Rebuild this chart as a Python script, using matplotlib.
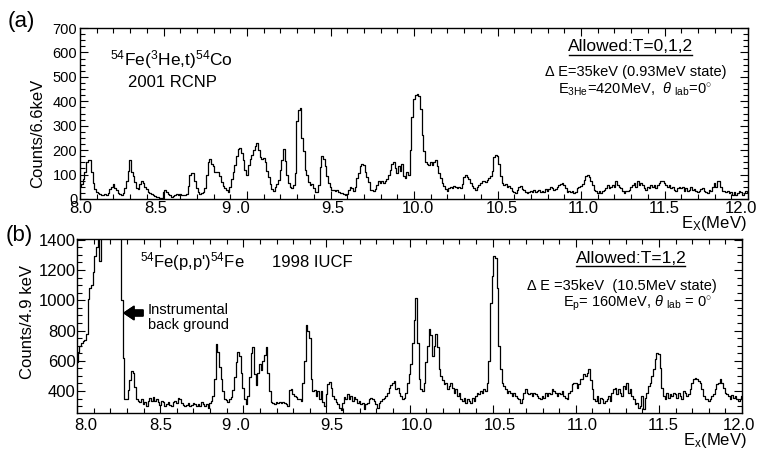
import numpy as np
import matplotlib
matplotlib.use("Agg")
import matplotlib.pyplot as plt
import matplotlib.transforms as mtransforms
from matplotlib.ticker import MultipleLocator, FixedLocator
from matplotlib.lines import Line2D

plt.rcParams['font.family'] = ['Liberation Sans', 'DejaVu Sans']
plt.rcParams['mathtext.fontset'] = 'custom'
plt.rcParams['mathtext.rm'] = 'Liberation Sans'
plt.rcParams['mathtext.it'] = 'Liberation Sans:italic'
plt.rcParams['mathtext.bf'] = 'Liberation Sans:bold'

# ---------------- data ----------------
e_start = 8.0
e_step = 0.01

# (a) 54Fe(3He,t)54Co, counts per bin, 8.00 .. 12.00 MeV
counts_a = [
    55, 60, 80, 110, 150, 160, 158, 110, 65, 40,
    30, 25, 22, 15, 18, 20, 18, 25, 40, 50,
    60, 45, 35, 25, 20, 15, 25, 45, 75, 115,
    158, 110, 95, 70, 45, 40, 60, 72, 65, 50,
    40, 30, 25, 20, 15, 12, 10, 8, 5, 3,
    30, 35, 28, 22, 15, 10, 12, 15, 20, 18,
    20, 18, 15, 15, 20, 55, 100, 107, 105, 75,
    45, 30, 20, 25, 30, 45, 100, 150, 165, 145,
    135, 110, 112, 110, 95, 70, 55, 45, 35, 30,
    50, 80, 110, 140, 175, 205, 210, 190, 160, 120,
    100, 140, 165, 180, 200, 215, 228, 200, 170, 165,
    168, 150, 115, 90, 60, 40, 33, 50, 60, 78,
    118, 160, 204, 155, 100, 65, 51, 47, 58, 105,
    320, 364, 371, 250, 197, 120, 100, 68, 58, 62,
    45, 28, 30, 58, 130, 176, 162, 135, 95, 65,
    51, 37, 35, 33, 35, 28, 24, 25, 19, 17,
    22, 37, 50, 45, 33, 50, 85, 105, 135, 142,
    138, 112, 90, 68, 35, 37, 33, 42, 58, 72,
    65, 72, 65, 72, 80, 100, 120, 142, 153, 128,
    107, 135, 114, 142, 93, 86, 111, 100, 200, 336,
    410, 426, 428, 420, 370, 260, 197, 150, 145, 140,
    150, 140, 150, 160, 135, 105, 85, 65, 55, 40,
    33, 44, 48, 44, 55, 48, 44, 48, 44, 60,
    90, 100, 90, 80, 65, 55, 45, 37, 50, 58,
    65, 72, 75, 68, 79, 86, 95, 114, 170, 181,
    175, 142, 93, 65, 58, 60, 51, 55, 45, 33,
    30, 24, 38, 51, 55, 42, 35, 30, 24, 28,
    33, 28, 37, 30, 33, 37, 30, 33, 30, 40,
    33, 42, 51, 44, 37, 42, 51, 58, 62, 65,
    58, 44, 30, 33, 28, 33, 24, 30, 45, 50,
    55, 62, 79, 93, 100, 89, 75, 58, 37, 31,
    24, 33, 24, 31, 37, 47, 58, 44, 51, 58,
    51, 75, 58, 51, 44, 31, 24, 31, 33, 37,
    51, 58, 65, 51, 72, 58, 65, 58, 47, 37,
    51, 44, 58, 51, 58, 44, 58, 65, 72, 75,
    65, 58, 51, 58, 44, 51, 37, 31, 44, 51,
    44, 51, 33, 44, 33, 37, 51, 37, 40, 33,
    28, 33, 40, 44, 33, 28, 24, 37, 33, 51,
    65, 51, 72, 75, 51, 31, 33, 28, 33, 24,
    28, 17, 28, 17, 24, 33, 28, 17, 24, 31,
    30,
]

# (b) 54Fe(p,p')54Fe, counts per bin, 8.00 .. 12.00 MeV
counts_b = [
    590, 655, 700, 720, 730, 740, 780, 1010, 1080, 1100,
    1190, 1290, 1350, 1450, 1260, 1600, 1900, 2200, 2500, 2700,
    2800, 2700, 2500, 2300, 2100, 1900, 1700, 1000, 620, 350,
    345, 410, 470, 530, 520, 430, 350, 335, 325, 345,
    312, 325, 300, 335, 356, 335, 360, 335, 345, 325,
    310, 335, 325, 300, 312, 325, 310, 300, 325, 335,
    323, 356, 345, 323, 310, 300, 310, 323, 300, 305,
    323, 312, 300, 312, 300, 325, 312, 300, 312, 290,
    323, 335, 370, 480, 709, 660, 560, 480, 400, 350,
    340, 325, 345, 360, 410, 490, 590, 658, 630, 520,
    420, 350, 315, 370, 490, 650, 690, 510, 440, 520,
    580, 540, 600, 640, 690, 520, 400, 330, 320, 312,
    330, 320, 330, 320, 330, 320, 312, 301, 410, 415,
    380, 370, 360, 345, 350, 335, 450, 600, 835, 800,
    750, 480, 400, 410, 370, 400, 345, 400, 330, 301,
    380, 444, 460, 420, 370, 345, 325, 312, 290, 274,
    320, 360, 345, 380, 345, 370, 335, 360, 345, 323,
    335, 312, 323, 280, 312, 323, 345, 356, 345, 335,
    312, 290, 323, 335, 345, 356, 367, 390, 422, 440,
    455, 466, 411, 422, 389, 367, 345, 356, 389, 455,
    510, 580, 720, 870, 1018, 720, 480, 411, 400, 455,
    590, 700, 813, 770, 632, 700, 780, 690, 543, 500,
    470, 444, 455, 411, 433, 455, 422, 389, 411, 367,
    389, 345, 334, 356, 323, 345, 334, 323, 356, 334,
    367, 389, 378, 400, 389, 411, 400, 455, 600, 985,
    1161, 1294, 1280, 1080, 700, 543, 455, 433, 411, 389,
    400, 389, 367, 389, 367, 356, 345, 323, 345, 389,
    411, 389, 378, 389, 367, 389, 378, 367, 356, 345,
    367, 356, 389, 367, 389, 378, 411, 400, 389, 367,
    389, 378, 400, 367, 356, 345, 389, 400, 444, 455,
    455, 422, 444, 477, 477, 510, 499, 521, 543, 470,
    411, 345, 334, 367, 323, 356, 345, 323, 334, 345,
    367, 334, 389, 411, 422, 378, 411, 389, 367, 433,
    411, 455, 389, 411, 367, 345, 312, 323, 290, 301,
    367, 279, 356, 389, 433, 455, 499, 543, 610, 654,
    645, 550, 420, 367, 345, 389, 356, 378, 367, 389,
    378, 356, 389, 367, 345, 400, 389, 367, 378, 411,
    455, 477, 488, 477, 466, 455, 411, 367, 345, 345,
    334, 345, 367, 378, 411, 444, 455, 477, 455, 422,
    389, 378, 367, 345, 371, 356, 367, 345, 334, 345,
    367,
]

x_ticks = [8.0, 8.5, 9.0, 9.5, 10.0, 10.5, 11.0, 11.5, 12.0]
x_tick_labels = ['8.0', '8.5', '9 .0', '9.5', '10.0', '10.5', '11.0', '11.5', '12.0']

# small horizontal shifts (pixels) of the hand-placed tick labels
label_shift_a = [1, -8, -11, 2, 4, 4, 2, 0, -7]
label_shift_b = [9, 1, -7, 5, 7, 7, 7, 4, -3]

# ---------------- figure ----------------
W, H = 757, 449
fig = plt.figure(figsize=(W / 100, H / 100), dpi=100)


def fx(px):
    return px / W


def fy(py):
    return 1 - py / H


axa = fig.add_axes([fx(80), fy(199), 668 / W, 171 / H])
axb = fig.add_axes([fx(77), fy(413), 665 / W, 174 / H])

Ea = np.round(e_start + e_step * np.arange(len(counts_a)), 2)
Eb = np.round(e_start + e_step * np.arange(len(counts_b)), 2)

axa.plot(Ea, counts_a, drawstyle='steps-mid', color='black', lw=0.9)
axb.plot(Eb, counts_b, drawstyle='steps-mid', color='black', lw=0.9)

axa.set_xlim(8.0, 12.0)
axa.set_ylim(0, 700)
axb.set_xlim(8.0, 12.0)
axb.set_ylim(255, 1405)

for ax, shifts, drop in ((axa, label_shift_a, 2), (axb, label_shift_b, 5)):
    ax.xaxis.set_major_locator(FixedLocator(x_ticks))
    ax.xaxis.set_minor_locator(MultipleLocator(0.1))
    ax.tick_params(which='both', direction='in', top=True, right=True, width=0.8,
                   labelbottom=False)
    ax.tick_params(which='major', length=6)
    ax.tick_params(which='minor', length=3.5)
    for s in ax.spines.values():
        s.set_linewidth(1.0)
    base = ax.get_xaxis_transform()
    for xv, lab, dx in zip(x_ticks, x_tick_labels, shifts):
        tr = base + mtransforms.ScaledTranslation(dx / 100, -drop / 100, fig.dpi_scale_trans)
        ax.text(xv, 0, lab, transform=tr, ha='center', va='top', fontsize=12, clip_on=False)

axa.yaxis.set_major_locator(MultipleLocator(100))
axa.yaxis.set_minor_locator(MultipleLocator(25))
axa.tick_params(axis='y', labelsize=10.5, pad=2)

axb.yaxis.set_major_locator(MultipleLocator(200))
axb.yaxis.set_minor_locator(MultipleLocator(50))
axb.tick_params(axis='y', labelsize=12, pad=1)

# panel labels & axis titles
fig.text(fx(8), fy(22), '(a)', fontsize=16, ha='left', va='center')
fig.text(fx(6), fy(236), '(b)', fontsize=16, ha='left', va='center')
fig.text(fx(38), fy(133), 'Counts/6.6keV', fontsize=12, rotation=90, ha='center', va='center')
fig.text(fx(28), fy(322), 'Counts/4.9 keV', fontsize=12, rotation=90, ha='center', va='center')
fig.text(fx(747), fy(228), r'E$_{\rm X}$(MeV)', fontsize=12, ha='right', va='baseline')
fig.text(fx(747), fy(445), r'E$_{\rm x}$(MeV)', fontsize=12, ha='right', va='baseline')

# panel (a) annotations
fig.text(fx(110), fy(65), r'$^{54}$Fe($^{3}$He,t)$^{54}$Co', fontsize=12.5, ha='left', va='baseline')
fig.text(fx(128), fy(87), '2001 RCNP', fontsize=12, ha='left', va='baseline')
fig.text(fx(631), fy(51), 'Allowed:T=0,1,2', fontsize=12.5, ha='center', va='baseline')
fig.add_artist(Line2D([fx(569), fx(692)], [fy(54.5), fy(54.5)], color='black', lw=1.0))
fig.text(fx(636), fy(76), 'Δ E=35keV (0.93MeV state)', fontsize=10.5, ha='center', va='baseline')
fig.text(fx(635), fy(94), r'E$_{\rm 3He}$=420MeV,  $\mathit{\theta}$ $_{\rm lab}$=0$^{\circ}$',
         fontsize=10.5, ha='center', va='baseline')

# panel (b) annotations
fig.text(fx(140), fy(267), r"$^{54}$Fe(p,p')$^{54}$Fe", fontsize=12, ha='left', va='baseline')
fig.text(fx(272), fy(267), '1998 IUCF', fontsize=12, ha='left', va='baseline')
fig.text(fx(148), fy(314), 'Instrumental', fontsize=10.5, ha='left', va='baseline')
fig.text(fx(148), fy(329), 'back ground', fontsize=10.5, ha='left', va='baseline')
fig.add_artist(plt.annotate('', xy=(124, H - 313), xytext=(143, H - 313),
                            xycoords='figure pixels', textcoords='figure pixels',
                            arrowprops=dict(arrowstyle='simple,head_length=0.6,head_width=0.8,tail_width=0.35',
                                            fc='black', ec='black', mutation_scale=12,
                                            shrinkA=0, shrinkB=0)))
fig.text(fx(631), fy(263), 'Allowed:T=1,2', fontsize=12.5, ha='center', va='baseline')
fig.add_artist(Line2D([fx(576), fx(685)], [fy(266), fy(266)], color='black', lw=1.0))
fig.text(fx(622), fy(290), 'Δ E =35keV  (10.5MeV state)', fontsize=10.5, ha='center', va='baseline')
fig.text(fx(637), fy(307), r'E$_{\rm p}$= 160MeV, $\mathit{\theta}$ $_{\rm lab}$ = 0$^{\circ}$',
         fontsize=10.5, ha='center', va='baseline')

fig.savefig('out.png', dpi=100)
